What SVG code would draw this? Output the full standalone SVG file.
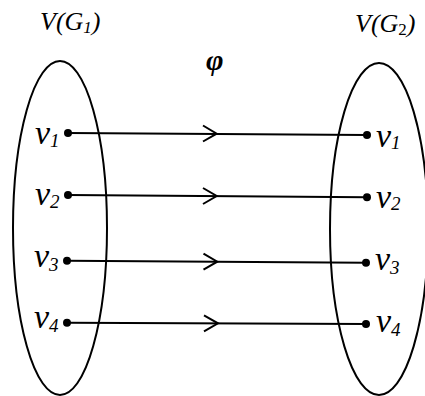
<svg xmlns="http://www.w3.org/2000/svg" width="425" height="396" viewBox="0 0 425 396">
<style>
.set{fill:none;stroke:#000;stroke-width:2}
.edge{stroke:#000;stroke-width:2;fill:none}
.head{stroke:#000;stroke-width:2;fill:none}
.dot{fill:#000}
text{font-family:"Liberation Serif","Times New Roman",serif;font-style:italic;fill:#000}
.lbl{font-size:34px}
.sub{font-size:19px}
.title{font-size:26px}
.tsub{font-size:17px}
.phi{font-size:30px;font-weight:bold}
</style>
<rect width="425" height="396" fill="#fff"/>
<g id="set-G1">
<ellipse class="set" cx="60" cy="228" rx="47" ry="167"/>
<text class="title" x="40" y="30">V(G<tspan class="tsub" dy="3">1</tspan><tspan dy="-3">)</tspan></text>
</g>
<g id="set-G2">
<ellipse class="set" cx="379" cy="229" rx="49" ry="166"/>
<text class="title" x="355" y="32">V(G<tspan class="tsub" dy="3" font-style="normal">2</tspan><tspan dy="-3">)</tspan></text>
</g>
<g id="phi-label"><text class="phi" x="206" y="70">φ</text></g>
<g id="connectors">
<line class="edge" x1="68" y1="133" x2="367" y2="135"/>
<polyline class="head" points="203,125.5 216.7,133.7 203,141.5"/>
<line class="edge" x1="68" y1="195" x2="367" y2="197.3"/>
<polyline class="head" points="203,188 216.7,196 203,204"/>
<line class="edge" x1="67" y1="260.7" x2="366" y2="262.7"/>
<polyline class="head" points="203.5,253.7 217.3,261.7 203.5,269.7"/>
<line class="edge" x1="67" y1="322.7" x2="366" y2="324"/>
<polyline class="head" points="204,315.3 218,323.3 204,331.3"/>
</g>
<g id="v1-left"><circle class="dot" cx="68" cy="133" r="4"/><text class="lbl" x="35" y="144">v<tspan class="sub" dy="3">1</tspan></text></g>
<g id="v2-left"><circle class="dot" cx="68" cy="195" r="4"/><text class="lbl" x="35" y="205">v<tspan class="sub" dy="3">2</tspan></text></g>
<g id="v3-left"><circle class="dot" cx="67" cy="260.7" r="4"/><text class="lbl" x="34" y="267">v<tspan class="sub" dy="4">3</tspan></text></g>
<g id="v4-left"><circle class="dot" cx="67" cy="322.7" r="4"/><text class="lbl" x="34" y="328">v<tspan class="sub" dy="4">4</tspan></text></g>
<g id="v1-right"><circle class="dot" cx="367" cy="135" r="4"/><text class="lbl" x="376" y="147">v<tspan class="sub" dy="2">1</tspan></text></g>
<g id="v2-right"><circle class="dot" cx="367" cy="197.3" r="4"/><text class="lbl" x="376" y="208">v<tspan class="sub" dy="2">2</tspan></text></g>
<g id="v3-right"><circle class="dot" cx="366" cy="262.7" r="4"/><text class="lbl" x="375" y="270">v<tspan class="sub" dy="4">3</tspan></text></g>
<g id="v4-right"><circle class="dot" cx="366" cy="324" r="4"/><text class="lbl" x="376" y="332">v<tspan class="sub" dy="4">4</tspan></text></g>
</svg>
